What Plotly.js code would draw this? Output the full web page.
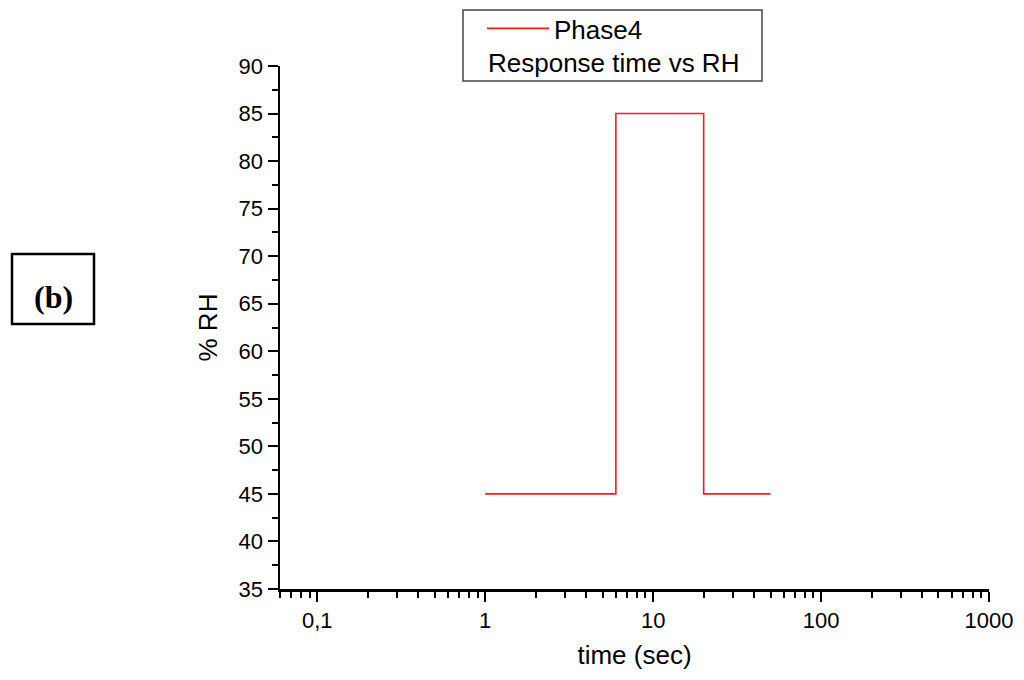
<!DOCTYPE html>
<html>
<head>
<meta charset="utf-8">
<script src="https://cdn.plot.ly/plotly-3.0.1.min.js"></script>
<style>html,body{margin:0;padding:0;background:#fff;}#chart{width:1024px;height:680px;}</style>
</head>
<body>
<div id="chart"></div>
<script>
// Data (step trace: time in sec vs %RH)
const timeSec = [1, 6, 20, 50];
const rhValues = [45, 85, 45, 45];
const seriesName = 'Phase4';
const legendSubtitle = 'Response time vs RH';
const xTickVals = [0.1, 1, 10, 100, 1000];
const xTickText = ['0,1', '1', '10', '100', '1000'];
const panelLabel = '(b)';

const W = 1024, H = 680;
const mL = 280, mR = 35, mT = 66, mB = 91;
const pw = W - mL - mR, ph = H - mT - mB;
const px = x => (x - mL) / pw;
const py = y => (H - mB - y) / ph;

const FONT = '"Liberation Sans", Arial, sans-serif';

const trace = {
  x: timeSec, y: rhValues, type: 'scatter', mode: 'lines',
  name: seriesName,
  line: {color: '#ff1a1a', width: 1.6, shape: 'hv'}
};

const layout = {
  width: W, height: H,
  margin: {l: mL, r: mR, t: mT, b: mB, autoexpand: false},
  paper_bgcolor: '#fff', plot_bgcolor: '#fff',
  font: {family: FONT, color: '#000', size: 22},
  showlegend: true,
  legend: {
    x: px(482), y: py(5), xanchor: 'left', yanchor: 'top',
    bgcolor: 'rgba(0,0,0,0)', borderwidth: 0,
    font: {family: FONT, size: 26, color: '#000'},
    itemwidth: 62
  },
  xaxis: {
    type: 'log',
    range: [Math.log10(0.06), 3],
    tickmode: 'array', tickvals: xTickVals, ticktext: xTickText,
    ticks: 'outside', ticklen: 10, tickwidth: 2, tickcolor: '#000',
    showline: true, linewidth: 2.5, linecolor: '#000',
    showgrid: false, zeroline: false,
    tickfont: {family: FONT, size: 22},
    minor: {dtick: 'D1', ticks: 'outside', ticklen: 6, tickwidth: 2, tickcolor: '#000', showgrid: false},
    title: {text: 'time (sec)', font: {family: FONT, size: 26}, standoff: 14}
  },
  yaxis: {
    range: [35, 90],
    tickmode: 'linear', tick0: 35, dtick: 5,
    ticks: 'outside', ticklen: 10, tickwidth: 2, tickcolor: '#000',
    showline: true, linewidth: 2.5, linecolor: '#000',
    showgrid: false, zeroline: false,
    tickfont: {family: FONT, size: 22},
    minor: {dtick: 2.5, ticks: 'outside', ticklen: 6, tickwidth: 2, tickcolor: '#000', showgrid: false},
    title: {text: '% RH', font: {family: FONT, size: 26}, standoff: 14}
  },
  shapes: [
    {type: 'rect', xref: 'paper', yref: 'paper',
     x0: px(463), x1: px(762), y0: py(81), y1: py(10),
     line: {color: '#444', width: 1.5}, fillcolor: 'rgba(0,0,0,0)'},
    {type: 'rect', xref: 'paper', yref: 'paper',
     x0: px(12), x1: px(94), y0: py(324), y1: py(254),
     line: {color: '#000', width: 2.5}, fillcolor: 'rgba(0,0,0,0)'}
  ],
  annotations: [
    {xref: 'paper', yref: 'paper', x: px(486), y: py(63), xanchor: 'left', yanchor: 'middle',
     text: legendSubtitle, showarrow: false, font: {family: FONT, size: 26, color: '#000'}},
    {xref: 'paper', yref: 'paper', x: px(53), y: py(297), xanchor: 'center', yanchor: 'middle',
     text: '<b>' + panelLabel + '</b>', showarrow: false,
     font: {family: '"Liberation Serif", "Times New Roman", serif', size: 32, color: '#000'}}
  ]
};

Plotly.newPlot('chart', [trace], layout, {displayModeBar: false, staticPlot: true});
</script>
</body>
</html>
